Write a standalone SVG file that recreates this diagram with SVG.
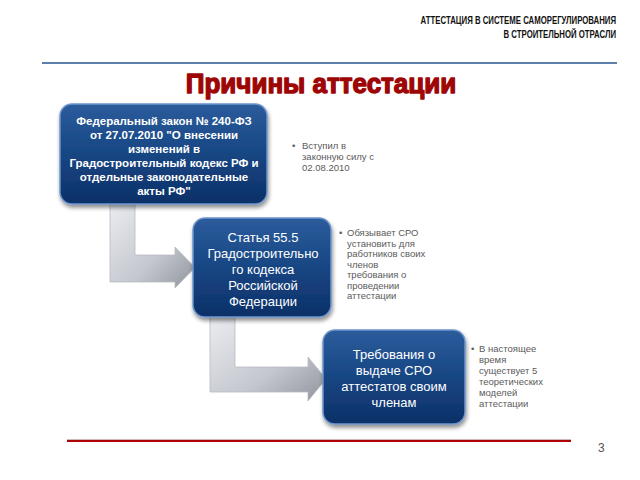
<svg xmlns="http://www.w3.org/2000/svg" width="640" height="480" viewBox="0 0 640 480">
<defs>
<linearGradient id="boxg" x1="0" y1="0" x2="0" y2="1">
<stop offset="0" stop-color="#2c5c9c"/>
<stop offset="0.5" stop-color="#174683"/>
<stop offset="1" stop-color="#0d3068"/>
</linearGradient>
<linearGradient id="arrg" x1="0" y1="0" x2="1" y2="1">
<stop offset="0" stop-color="#eceef2"/>
<stop offset="0.6" stop-color="#c4c7ce"/>
<stop offset="1" stop-color="#8f939c"/>
</linearGradient>
<filter id="sh" x="-10%" y="-10%" width="125%" height="130%">
<feGaussianBlur in="SourceAlpha" stdDeviation="2"/>
<feOffset dx="1" dy="3" result="b"/>
<feComponentTransfer><feFuncA type="linear" slope="0.45"/></feComponentTransfer>
<feMerge><feMergeNode/><feMergeNode in="SourceGraphic"/></feMerge>
</filter>
</defs>
<style>
.box{fill:url(#boxg);stroke:#6d95cc;stroke-width:1.5;filter:url(#sh)}
.bt{font-family:"Liberation Sans",Arial,sans-serif;fill:#ffffff;text-anchor:middle}
.b1{font-size:11.5px;font-weight:bold}
.b2{font-size:13px}
.note{font-family:"Liberation Sans",Arial,sans-serif;font-size:9.5px;fill:#5a5a5a}
.arr{fill:url(#arrg);stroke:#b8bbc2;stroke-width:0.8}
.hdr{font-family:"Liberation Sans",Arial,sans-serif;font-weight:bold;font-size:10px;fill:#111;text-anchor:end}
</style>
<rect width="640" height="480" fill="#ffffff"/>
<text class="hdr" transform="translate(616,24) scale(0.78,1)">АТТЕСТАЦИЯ В СИСТЕМЕ САМОРЕГУЛИРОВАНИЯ</text>
<text class="hdr" transform="translate(616,38) scale(0.78,1)">В СТРОИТЕЛЬНОЙ ОТРАСЛИ</text>
<line x1="42" y1="63" x2="617" y2="63" stroke="#5b7fa9" stroke-width="2"/>
<text transform="translate(321,93) scale(0.93,1)" text-anchor="middle" font-family="Liberation Sans,Arial,sans-serif" font-weight="bold" font-size="28" fill="#9e0606" stroke="#9e0606" stroke-width="1.4" stroke-linejoin="round">Причины  аттестации</text>
<g id="connectors">
<path class="arr" d="M110,198 H135 V255 H175 V247 L195,267.5 L175,288 V282 H110 Z"/>
<path class="arr" d="M210,312 H235 V367 H308 V357 L326,379 L308,401 V392 H210 Z"/>
</g>
<g id="node1">
<rect class="box" x="60" y="104" width="207" height="100" rx="12"/>
<text class="bt b1" x="164" y="125">Федеральный закон № 240-ФЗ</text>
<text class="bt b1" x="164" y="139">от 27.07.2010 "О внесении</text>
<text class="bt b1" x="164" y="153">изменений в</text>
<text class="bt b1" x="164" y="167">Градостроительный кодекс РФ и</text>
<text class="bt b1" x="164" y="181">отдельные законодательные</text>
<text class="bt b1" x="164" y="195">акты РФ"</text>
</g>
<g id="note1">
<text class="note" x="292" y="149">•</text>
<text class="note" x="302" y="149">Вступил в</text>
<text class="note" x="302" y="160">законную силу с</text>
<text class="note" x="302" y="171">02.08.2010</text>
</g>
<g id="node2">
<rect class="box" x="193" y="218" width="138" height="99" rx="12"/>
<text class="bt b2" x="263" y="242">Статья 55.5</text>
<text class="bt b2" x="263" y="258">Градостроительно</text>
<text class="bt b2" x="263" y="274">го кодекса</text>
<text class="bt b2" x="263" y="290">Российской</text>
<text class="bt b2" x="263" y="306">Федерации</text>
</g>
<g id="note2">
<text class="note" x="339" y="236">•</text>
<text class="note" x="347" y="236">Обязывает СРО</text>
<text class="note" x="347" y="246.5">установить для</text>
<text class="note" x="347" y="257">работников своих</text>
<text class="note" x="347" y="267.5">членов</text>
<text class="note" x="347" y="278">требования о</text>
<text class="note" x="347" y="288.5">проведении</text>
<text class="note" x="347" y="299">аттестации</text>
</g>
<g id="node3">
<rect class="box" x="323" y="330" width="142" height="94" rx="12"/>
<text class="bt b2" x="394" y="359">Требования о</text>
<text class="bt b2" x="394" y="375">выдаче СРО</text>
<text class="bt b2" x="394" y="391">аттестатов своим</text>
<text class="bt b2" x="394" y="407">членам</text>
</g>
<g id="note3">
<text class="note" x="471" y="352">•</text>
<text class="note" x="479" y="352">В настоящее</text>
<text class="note" x="479" y="363">время</text>
<text class="note" x="479" y="374">существует 5</text>
<text class="note" x="479" y="385">теоретических</text>
<text class="note" x="479" y="396">моделей</text>
<text class="note" x="479" y="407">аттестации</text>
</g>
<line x1="67" y1="441" x2="571" y2="441" stroke="#c00000" stroke-width="2"/>
<line x1="67" y1="440" x2="571" y2="440" stroke="#5a1010" stroke-width="0.6"/>
<text x="598" y="452" font-family="Liberation Sans,Arial,sans-serif" font-size="12" fill="#555">3</text>
</svg>
